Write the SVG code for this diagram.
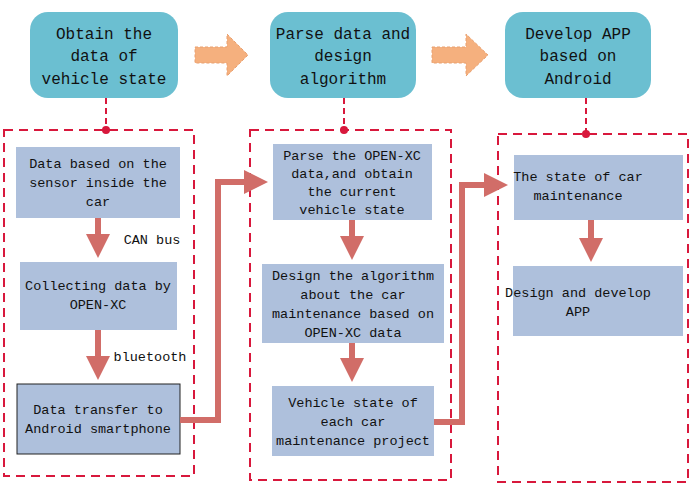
<svg xmlns="http://www.w3.org/2000/svg" width="695" height="494" viewBox="0 0 695 494">
<style>
.top{fill:#6bbfd1}
.tt{font-family:"Liberation Mono",monospace;font-size:16px;fill:#111;text-anchor:middle}
.box{fill:#aec0dc}
.bt{font-family:"Liberation Mono",monospace;font-size:13.5px;fill:#111;text-anchor:middle}
.dash{fill:none;stroke:#d8183c;stroke-width:2;stroke-dasharray:9,6}
.con{fill:none;stroke:#d16d68;stroke-width:6}
.fat{fill:#f5b07e;stroke:#e8a070;stroke-dasharray:3,2}
</style>
<defs>
<marker id="ah" markerWidth="4" markerHeight="4" refX="2" refY="2" orient="auto" markerUnits="strokeWidth"><path d="M0,0 L4,2 L0,4z" fill="#d16d68"/></marker>
</defs>
<rect width="695" height="494" fill="#fff"/>
<g id="top1"><rect class="top" x="30" y="12" width="148" height="86" rx="18"/><text class="tt" x="104" y="39">Obtain  the</text><text class="tt" x="104" y="61">data of</text><text class="tt" x="104" y="84">vehicle state</text></g>
<g id="top2"><rect class="top" x="270" y="12" width="146" height="86" rx="18"/><text class="tt" x="343" y="39">Parse data and</text><text class="tt" x="343" y="61">design</text><text class="tt" x="343" y="84">algorithm</text></g>
<g id="top3"><rect class="top" x="505" y="12" width="146" height="86" rx="18"/><text class="tt" x="578" y="39">Develop APP</text><text class="tt" x="578" y="61">based on</text><text class="tt" x="578" y="84">Android</text></g>
<g id="fat1"><path class="fat" d="M195,47 H227 V34 L248,55 L227,76 V63 H195Z"/></g>
<g id="fat2"><path class="fat" d="M432,47 H466 V34 L488,55 L466,76 V63 H432Z"/></g>
<g id="group1"><rect class="dash" x="4" y="130" width="190" height="346"/><line x1="106" y1="98" x2="106" y2="130" stroke="#d8183c" stroke-width="2" stroke-dasharray="6,4"/><circle cx="106" cy="130" r="4" fill="#d8183c"/></g>
<g id="group2"><rect class="dash" x="250" y="130" width="201" height="350"/><line x1="344" y1="98" x2="344" y2="130" stroke="#d8183c" stroke-width="2" stroke-dasharray="6,4"/><circle cx="344" cy="130" r="4" fill="#d8183c"/></g>
<g id="group3"><rect class="dash" x="498" y="134" width="190" height="348"/><line x1="586" y1="98" x2="586" y2="134" stroke="#d8183c" stroke-width="2" stroke-dasharray="6,4"/><circle cx="586" cy="134" r="4" fill="#d8183c"/></g>
<g id="n1"><rect class="box" x="16" y="147" width="164" height="71"/><text class="bt" x="98" y="168">Data based on the</text><text class="bt" x="98" y="187">sensor inside the</text><text class="bt" x="98" y="206">car</text></g>
<g id="n2"><rect class="box" x="20" y="262" width="157" height="68"/><text class="bt" x="98" y="290">Collecting data by</text><text class="bt" x="98" y="309">OPEN-XC</text></g>
<g id="n3"><rect class="box" x="17" y="384" width="163" height="70" stroke="#222" stroke-width="1"/><text class="bt" x="98" y="414">Data transfer to</text><text class="bt" x="98" y="433">Android smartphone</text></g>
<g id="n4"><rect class="box" x="273" y="144" width="159" height="76"/><text class="bt" x="352" y="160">Parse the OPEN-XC</text><text class="bt" x="352" y="178">data,and obtain</text><text class="bt" x="352" y="196">the current</text><text class="bt" x="352" y="214">vehicle state</text></g>
<g id="n5"><rect class="box" x="262" y="264" width="182" height="79"/><text class="bt" x="353" y="280">Design the  algorithm</text><text class="bt" x="353" y="299">about the car</text><text class="bt" x="353" y="318">maintenance based on</text><text class="bt" x="353" y="337">OPEN-XC data</text></g>
<g id="n6"><rect class="box" x="272" y="386" width="162" height="70"/><text class="bt" x="353" y="407">Vehicle state of</text><text class="bt" x="353" y="426">each car</text><text class="bt" x="353" y="445">maintenance project</text></g>
<g id="n7"><rect class="box" x="514" y="155" width="169" height="65"/><text class="bt" x="578" y="181">The state of car</text><text class="bt" x="578" y="200">maintenance</text></g>
<g id="n8"><rect class="box" x="513" y="266" width="170" height="70"/><text class="bt" x="578" y="297">Design and develop</text><text class="bt" x="578" y="316">APP</text></g>
<g id="connectors">
<line class="con" x1="98" y1="218" x2="98" y2="246" marker-end="url(#ah)"/>
<line class="con" x1="98" y1="330" x2="98" y2="368" marker-end="url(#ah)"/>
<line class="con" x1="352" y1="220" x2="352" y2="248" marker-end="url(#ah)"/>
<line class="con" x1="352" y1="343" x2="352" y2="370" marker-end="url(#ah)"/>
<line class="con" x1="591" y1="220" x2="591" y2="250" marker-end="url(#ah)"/>
<path class="con" d="M180,420 H218 V182 H256" marker-end="url(#ah)"/>
<path class="con" d="M434,422 H462 V185 H496" marker-end="url(#ah)"/>
<text class="bt" x="152" y="244">CAN bus</text>
<text class="bt" x="150" y="361">bluetooth</text>
</g>
</svg>
